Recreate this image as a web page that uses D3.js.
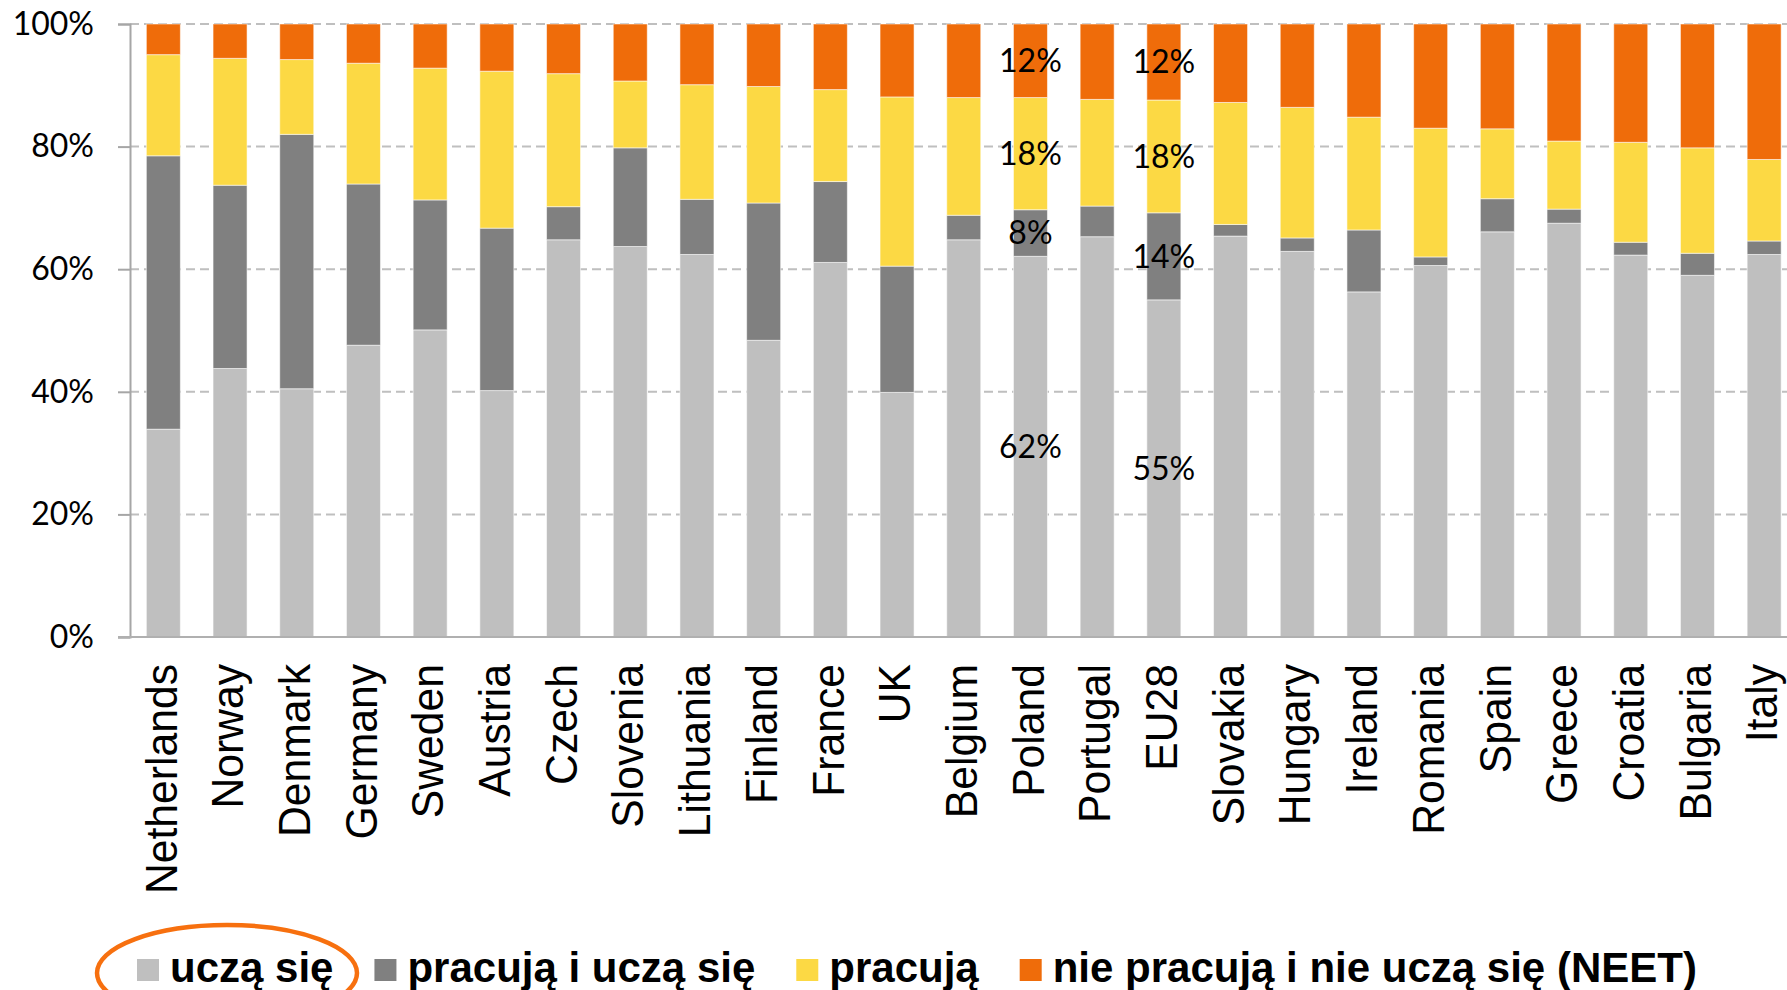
<!DOCTYPE html>
<html>
<head>
<meta charset="utf-8">
<script src="https://cdn.jsdelivr.net/npm/d3@7"></script>
<style>
  body { margin: 0; background: #fff; }
  svg { display: block; }
</style>
</head>
<body>
<div id="chart"></div>
<script>
// categories and series (shares in %)
const countries = ["Netherlands", "Norway", "Denmark", "Germany", "Sweden", "Austria", "Czech",
  "Slovenia", "Lithuania", "Finland", "France", "UK", "Belgium", "Poland", "Portugal", "EU28",
  "Slovakia", "Hungary", "Ireland", "Romania", "Spain", "Greece", "Croatia", "Bulgaria", "Italy"];
const uczaSie      = [33.9, 43.8, 40.5, 47.6, 50.1, 40.2, 64.8, 63.7, 62.4, 48.4, 61.1, 39.9, 64.8, 62.1, 65.3, 55.0, 65.4, 62.9, 56.3, 60.6, 66.1, 67.5, 62.3, 59.0, 62.4];
const pracujaIUcza = [44.6, 29.9, 41.5, 26.3, 21.2, 26.5, 5.4, 16.1, 9.0, 22.4, 13.2, 20.6, 4.0, 7.6, 5.0, 14.2, 1.9, 2.2, 10.1, 1.4, 5.4, 2.3, 2.1, 3.6, 2.2];
const pracuja      = [16.5, 20.7, 12.2, 19.7, 21.5, 25.6, 21.7, 10.9, 18.7, 19.0, 15.0, 27.6, 19.2, 18.3, 17.4, 18.4, 19.9, 21.3, 18.4, 21.0, 11.4, 11.1, 16.3, 17.2, 13.3];
const neet         = [5.0, 5.6, 5.8, 6.4, 7.2, 7.7, 8.1, 9.3, 9.9, 10.2, 10.7, 11.9, 12.0, 12.0, 12.3, 12.4, 12.8, 13.6, 15.2, 17.0, 17.1, 19.1, 19.3, 20.2, 22.1];
const seriesNames  = ["uczą się", "pracują i uczą się", "pracują", "nie pracują i nie uczą się (NEET)"];
const yTicks       = [0, 20, 40, 60, 80, 100];
const labelledBars = ["Poland", "EU28"];

const colors = ["#bfbfbf", "#808080", "#fcd944", "#ef6c0a"];

const W = 1787, H = 990;
const margin = { top: 24, left: 130, bottom: 353 };
const plotH = H - margin.top - margin.bottom;
const step = 66.7;

const svg = d3.select("#chart").append("svg")
  .attr("width", W)
  .attr("height", H);

// build rows for the stack
const keys = ["s0", "s1", "s2", "s3"];
const rows = countries.map((c, i) => ({
  country: c, s0: uczaSie[i], s1: pracujaIUcza[i], s2: pracuja[i], s3: neet[i]
}));
const stacked = d3.stack().keys(keys)(rows);

const x = d3.scaleBand()
  .domain(countries)
  .range([margin.left, margin.left + step * countries.length])
  .paddingInner(0.49)
  .paddingOuter(0.245);

const y = d3.scaleLinear()
  .domain([0, 100])
  .range([margin.top + plotH, margin.top]);

// dashed gridlines
svg.append("g")
  .selectAll("line")
  .data(yTicks.filter(d => d > 0))
  .enter().append("line")
  .attr("x1", margin.left)
  .attr("x2", W)
  .attr("y1", d => y(d))
  .attr("y2", d => y(d))
  .style("stroke", "#bfbfbf")
  .style("stroke-width", 2)
  .style("stroke-dasharray", "9 5");

// bars
svg.append("g")
  .selectAll("g")
  .data(stacked)
  .enter().append("g")
  .attr("fill", (d, i) => colors[i])
  .selectAll("rect")
  .data(d => d)
  .enter().append("rect")
  .attr("x", d => x(d.data.country))
  .attr("width", x.bandwidth())
  .attr("y", d => y(d[1]))
  .attr("height", d => y(d[0]) - y(d[1]))
  .style("stroke", "#ffffff")
  .style("stroke-opacity", 0.55)
  .style("stroke-width", 1);

// y axis
const yAxis = d3.axisLeft(y)
  .tickValues(yTicks)
  .tickSize(12)
  .tickPadding(24)
  .tickFormat(d => d + "%");

const gy = svg.append("g")
  .attr("transform", "translate(" + margin.left + ",0)")
  .call(yAxis);
gy.select(".domain").style("stroke", "#a6a6a6").style("stroke-width", 2);
gy.selectAll(".tick line").style("stroke", "#a6a6a6").style("stroke-width", 2);
gy.selectAll(".tick text")
  .style("font-family", "Lato, 'Open Sans', sans-serif")
  .style("font-size", "32px")
  .style("fill", "#000");

// x axis line
svg.append("line")
  .attr("x1", margin.left - 12)
  .attr("x2", W)
  .attr("y1", y(0))
  .attr("y2", y(0))
  .style("stroke", "#b0b0b0")
  .style("stroke-width", 2);

// category labels, rotated
svg.append("g")
  .selectAll("text")
  .data(countries)
  .enter().append("text")
  .attr("transform", d => "translate(" + (x(d) + x.bandwidth() / 2) + "," + (y(0) + 27) + ") rotate(-90) scale(0.97,1)")
  .attr("text-anchor", "end")
  .attr("dy", "0.3em")
  .style("font-family", "'Liberation Sans', Arial, sans-serif")
  .style("font-size", "44px")
  .style("fill", "#000")
  .text(d => d);

// value labels on Poland and EU28
const labelData = [];
stacked.forEach(s => s.forEach(d => {
  if (labelledBars.includes(d.data.country)) labelData.push(d);
}));
svg.append("g")
  .selectAll("text")
  .data(labelData)
  .enter().append("text")
  .attr("x", d => x(d.data.country) + x.bandwidth() / 2)
  .attr("y", d => y((d[0] + d[1]) / 2))
  .attr("dy", "0.35em")
  .attr("text-anchor", "middle")
  .style("font-family", "Lato, 'Open Sans', sans-serif")
  .style("font-size", "32px")
  .style("fill", "#000")
  .text(d => Math.round(d[1] - d[0]) + "%");

// legend
const legend = svg.append("g").attr("transform", "translate(137,982)");
let lx = 0;
seriesNames.forEach((name, i) => {
  legend.append("rect")
    .attr("x", lx)
    .attr("y", -23)
    .attr("width", 22)
    .attr("height", 22)
    .attr("fill", colors[i]);
  const t = legend.append("text")
    .attr("x", lx + 33)
    .attr("y", 0)
    .style("font-family", "'Liberation Sans', Arial, sans-serif")
    .style("font-size", "42px")
    .style("font-weight", "bold")
    .style("fill", "#000")
    .text(name);
  lx += 33 + t.node().getComputedTextLength() + 41;
});

// orange ring around the first legend entry
svg.append("ellipse")
  .attr("cx", 227)
  .attr("cy", 973)
  .attr("rx", 130)
  .attr("ry", 48)
  .style("fill", "none")
  .style("stroke", "#f7700f")
  .style("stroke-width", 4.5);
</script>
</body>
</html>
